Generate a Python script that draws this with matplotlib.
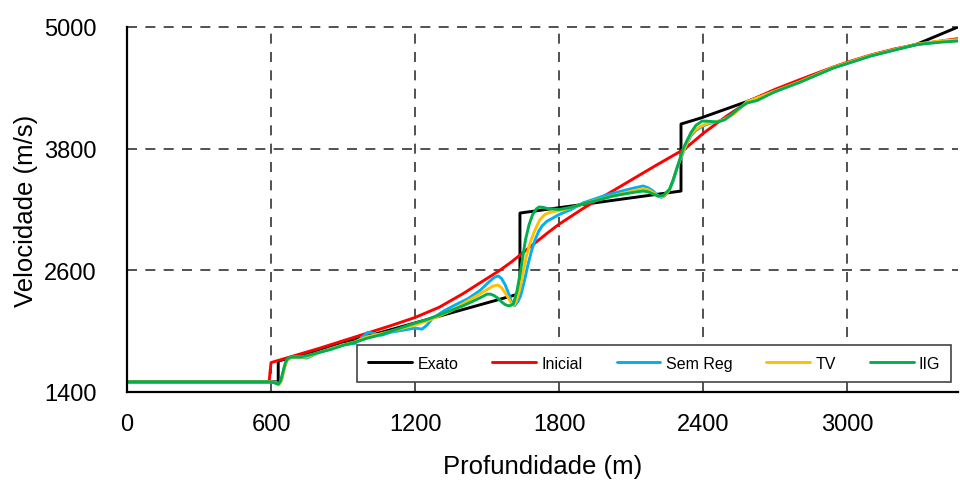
import numpy as np
import matplotlib
matplotlib.use('Agg')
import matplotlib.pyplot as plt
from matplotlib import font_manager

plt.rcParams['font.family'] = ['Liberation Sans', 'DejaVu Sans']

# Exact model (piecewise)
exato_x = [0, 630, 630, 1637, 1637, 2308, 2308, 2390, 2583, 2700, 2800, 2942, 3100, 3292, 3462]
exato_y = [1500, 1500, 1705, 2370, 3165, 3382, 4043, 4102, 4265, 4370, 4460, 4600, 4720, 4832, 5000]

# Initial model
inicial_x = [0, 592, 600, 700, 800, 900, 1000, 1100, 1200, 1300, 1400, 1483, 1550, 1600, 1650, 1700,
             1750, 1800, 1900, 2000, 2100, 2200, 2325, 2400, 2500, 2600, 2700, 2800, 2942,
             3000, 3100, 3200, 3300, 3400, 3462]
inicial_y = [1500, 1500, 1690, 1760, 1830, 1905, 1980, 2055, 2135, 2235, 2370, 2495, 2595, 2680, 2775, 2870,
             2965, 3055, 3210, 3350, 3490, 3630, 3800, 3950, 4125, 4280, 4385, 4478, 4605,
             4652, 4725, 4785, 4830, 4865, 4885]

# Sem regularizacao
semreg_x = [0, 600, 620, 635, 645, 655, 665, 680, 700, 750, 800, 850, 900, 950, 975, 1004, 1030, 1060,
            1100, 1150, 1200, 1229, 1250, 1270, 1320, 1375, 1420, 1470, 1510, 1530, 1546, 1560,
            1575, 1590, 1600, 1614, 1628, 1640, 1655, 1670, 1685, 1700, 1715, 1730, 1750, 1770,
            1800, 1850, 1900, 1950, 2000, 2050, 2100, 2150, 2170, 2190, 2210, 2226, 2240, 2260,
            2275, 2290, 2305, 2320, 2335, 2350, 2370, 2390, 2410, 2430, 2480, 2530, 2583, 2700,
            2800, 2942, 3100, 3292, 3400, 3462]
semreg_y = [1500, 1500, 1490, 1480, 1530, 1640, 1710, 1740, 1745, 1735, 1790, 1830, 1865, 1880, 1930, 1990,
            1975, 1960, 1990, 2010, 2030, 2020, 2060, 2120, 2200, 2268, 2320, 2400, 2490, 2530, 2545, 2520,
            2460, 2370, 2300, 2250, 2290, 2350, 2490, 2650, 2790, 2900, 2985, 3040, 3085, 3110,
            3150, 3200, 3265, 3305, 3345, 3375, 3405, 3432, 3415, 3385, 3340, 3320, 3335, 3390,
            3480, 3600, 3690, 3780, 3860, 3930, 3980, 4010, 4035, 4050, 4080, 4150, 4262, 4365,
            4455, 4598, 4718, 4830, 4860, 4872]

# TV
tv_x = [0, 600, 620, 635, 645, 655, 665, 680, 700, 750, 800, 850, 900, 950, 1000, 1050, 1100,
        1150, 1200, 1250, 1300, 1350, 1400, 1450, 1500, 1525, 1546, 1560, 1575, 1590, 1600, 1612,
        1622, 1635, 1650, 1665, 1682, 1700, 1720, 1740, 1760, 1780, 1830, 1880, 1950, 2000,
        2050, 2100, 2150, 2170, 2190, 2210, 2225, 2240, 2260, 2275, 2290, 2305, 2320, 2335,
        2350, 2370, 2390, 2410, 2430, 2480, 2530, 2583, 2700, 2800, 2942, 3100, 3292, 3400, 3462]
tv_y = [1500, 1500, 1492, 1478, 1525, 1630, 1705, 1740, 1745, 1745, 1790, 1825, 1865, 1895, 1945, 1970, 2000,
        2030, 2060, 2100, 2150, 2200, 2270, 2340, 2410, 2445, 2455, 2430, 2380, 2320, 2280, 2255,
        2300, 2400, 2580, 2750, 2890, 3000, 3100, 3150, 3170, 3180, 3205, 3240, 3290, 3320,
        3350, 3380, 3405, 3395, 3370, 3335, 3325, 3340, 3395, 3490, 3600, 3700, 3790, 3870,
        3945, 3990, 4020, 4042, 4055, 4080, 4145, 4262, 4368, 4458, 4602, 4722, 4832, 4865, 4875]

# IIG
iig_x = [0, 600, 615, 630, 640, 650, 660, 670, 685, 720, 760, 800, 850, 900, 950, 1000, 1050, 1100,
         1150, 1200, 1250, 1300, 1350, 1400, 1450, 1480, 1500, 1515, 1530, 1545, 1560, 1575, 1590,
         1600, 1610, 1625, 1640, 1650, 1660, 1675, 1690, 1705, 1717, 1735, 1750, 1800, 1858, 1900,
         1950, 2025, 2100, 2150, 2170, 2190, 2215, 2235, 2260, 2275, 2290, 2305, 2317, 2335, 2350,
         2370, 2396, 2425, 2458, 2490, 2520, 2550, 2583, 2625, 2700, 2800, 2942, 3100, 3292, 3400, 3462]
iig_y = [1500, 1500, 1490, 1475, 1510, 1600, 1690, 1730, 1745, 1745, 1765, 1790, 1820, 1860, 1890, 1930, 1960, 2000,
         2040, 2080, 2115, 2160, 2205, 2250, 2305, 2340, 2365, 2365, 2350, 2325, 2290, 2262, 2250,
         2255, 2270, 2400, 2600, 2750, 2900, 3050, 3150, 3205, 3225, 3220, 3210, 3200, 3225, 3255,
         3285, 3333, 3365, 3382, 3375, 3355, 3330, 3340, 3400, 3490, 3600, 3710, 3800, 3890, 3960,
         4030, 4072, 4070, 4062, 4085, 4140, 4200, 4250, 4275, 4362, 4452, 4595, 4715, 4828, 4852, 4862]

series = [
    ("Exato", exato_x, exato_y, "#000000"),
    ("Inicial", inicial_x, inicial_y, "#FF0000"),
    ("Sem Reg", semreg_x, semreg_y, "#00B0F0"),
    ("TV", tv_x, tv_y, "#FFC000"),
    ("IIG", iig_x, iig_y, "#00B050"),
]

x_ticks = [0, 600, 1200, 1800, 2400, 3000]
y_ticks = [1400, 2600, 3800, 5000]


def main():
    fig = plt.figure(figsize=(9.6, 4.81), dpi=100)
    ax = fig.add_axes([127 / 960, 1 - 393 / 481, 831 / 960, 365 / 481])

    for label, xs, ys, color in series:
        ax.plot(xs, ys, color=color, linewidth=2.1, label=label,
                solid_joinstyle='round', solid_capstyle='round')

    ax.set_xlim(0, 3462)
    ax.set_ylim(1400, 5000)
    ax.set_xticks(x_ticks)
    ax.set_yticks(y_ticks)
    ax.tick_params(length=0, labelsize=17)
    ax.tick_params(axis='x', pad=15)
    ax.tick_params(axis='y', pad=22)

    # dashed grid, skipping the lines that sit on the spines
    for xv in x_ticks[1:]:
        ax.axvline(xv, color="#333333", linewidth=1.2, linestyle=(0, (6, 5)), zorder=0)
    for yv in y_ticks[1:]:
        ax.axhline(yv, color="#333333", linewidth=1.2, linestyle=(0, (6, 5)), zorder=0, clip_on=False)

    ax.spines['top'].set_visible(False)
    ax.spines['right'].set_visible(False)
    ax.spines['left'].set_linewidth(1.6)
    ax.spines['bottom'].set_linewidth(1.6)

    ax.set_xlabel("Profundidade (m)", fontsize=18.5, labelpad=14)
    ax.set_ylabel("Velocidade (m/s)", fontsize=18.5, labelpad=4)

    # narrow face for the legend if available
    names = {f.name for f in font_manager.fontManager.ttflist}
    if 'Liberation Sans Narrow' in names:
        leg_font = dict(family='Liberation Sans Narrow', size=13.5)
    else:
        leg_font = dict(family='Liberation Sans', size=11.5)

    leg = ax.legend(loc='center', bbox_to_anchor=(0.277, 0.027, 0.715, 0.102),
                    mode='expand', ncol=5, prop=leg_font, frameon=True, fancybox=False,
                    handlelength=2.75, handletextpad=0.32, borderaxespad=0,
                    borderpad=0.7, columnspacing=1.5)
    leg.get_frame().set_edgecolor("#444444")
    leg.get_frame().set_linewidth(1.2)
    leg.get_frame().set_alpha(1)

    fig.savefig("out.png", dpi=100)
    plt.close(fig)


if __name__ == "__main__":
    main()
